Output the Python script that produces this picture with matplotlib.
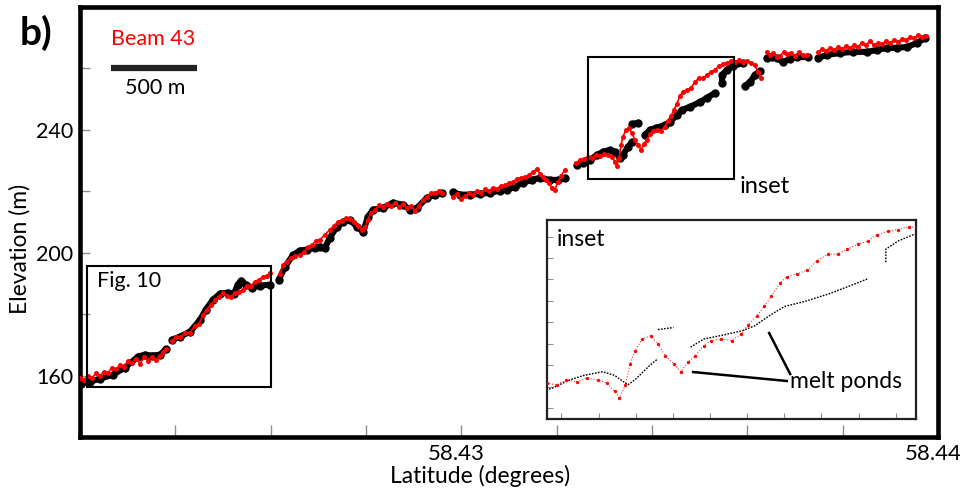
import numpy as np
import matplotlib
matplotlib.use("Agg")
import matplotlib.pyplot as plt
import matplotlib.transforms as mtransforms
from matplotlib.lines import Line2D
from matplotlib.patches import Rectangle

plt.rcParams['font.family'] = ['Lato', 'DejaVu Sans']

nan = float('nan')

# ---- Black profile (latitude, elevation); NaN marks data gaps ----
black_lat = [
    58.42202, 58.42221, 58.42242, 58.42269, 58.42294, 58.42322, 58.42336, 58.42351, 58.42368, 58.42380, nan,
    58.42393, 58.42410, 58.42431, 58.42452, 58.42464, 58.42479, 58.42494, 58.42510, 58.42523, 58.42531,
    58.42538, 58.42548, 58.42561, 58.42578, 58.42599, nan,
    58.42617, 58.42630, 58.42647, 58.42661, 58.42676, 58.42693, 58.42703, 58.42714, 58.42724, 58.42739,
    58.42752, 58.42766, 58.42781, 58.42794, 58.42804, 58.42815, 58.42836, 58.42857, 58.42878, 58.42892,
    58.42907, 58.42928, 58.42945, 58.42959, nan,
    58.42982, 58.42997, 58.43018, 58.43039, 58.43060, 58.43081, 58.43096, 58.43113, 58.43129, 58.43148,
    58.43165, 58.43186, 58.43203, 58.43217, nan,
    58.43243, 58.43255, 58.43270, 58.43285, 58.43297, 58.43312, 58.43322, 58.43333, 58.43339, 58.43350,
    58.43358, nan,
    58.43358, 58.43371, nan,
    58.43385, 58.43396, 58.43408, 58.43427, 58.43438, 58.43452, 58.43463, 58.43480, 58.43501, 58.43515,
    58.43532, nan,
    58.43547, 58.43547, 58.43557, 58.43570, 58.43591, nan,
    58.43595, 58.43606, 58.43616, 58.43627, nan,
    58.43641, 58.43652, 58.43662, 58.43675, 58.43689, 58.43704, 58.43727, nan,
    58.43748, 58.43767, 58.43794, 58.43822, 58.43851, 58.43872, 58.43893, 58.43914, 58.43935, 58.43956,
    58.43973,
]
black_elev = [
    157.4, 158.0, 159.0, 160.3, 162.6, 166.2, 166.8, 166.5, 166.8, 168.5, nan,
    171.7, 172.7, 174.3, 178.2, 181.5, 184.7, 186.7, 187.0, 186.7, 189.6,
    190.9, 189.6, 188.6, 189.3, 189.6, nan,
    191.2, 195.4, 199.3, 200.7, 201.0, 201.6, 202.0, 201.6, 204.9, 208.5,
    210.1, 210.7, 208.5, 206.8, 211.7, 214.0, 214.6, 216.3, 215.6, 214.0,
    214.6, 217.9, 218.9, 219.5, nan,
    219.8, 218.9, 218.9, 219.2, 219.5, 220.2, 220.5, 221.5, 222.8, 223.7,
    224.4, 223.7, 223.7, 224.4, nan,
    228.6, 229.3, 230.2, 231.9, 232.8, 233.5, 232.8, 230.9, 231.9, 234.5,
    236.1, nan,
    241.9, 242.3, nan,
    238.4, 240.0, 240.6, 241.6, 242.6, 244.9, 246.5, 247.5, 249.1, 250.4,
    252.0, nan,
    255.3, 257.9, 259.5, 260.8, 261.8, nan,
    254.3, 255.6, 257.9, 259.2, nan,
    263.4, 263.7, 263.4, 262.1, 263.1, 263.7, 263.7, nan,
    263.4, 264.4, 265.0, 265.4, 265.4, 266.0, 266.7, 266.7, 267.0, 268.3,
    269.9,
]

# ---- Red profile: Beam 43 ----
red_lat = [
    58.42200, 58.42208, 58.42217, 58.42225, 58.42234, 58.42242, 58.42250, 58.42259, 58.42267, 58.42276,
    58.42284, 58.42292, 58.42301, 58.42309, 58.42317, 58.42326, 58.42334, 58.42343, 58.42351, 58.42359,
    58.42368, 58.42374, 58.42380, nan,
    58.42393, 58.42401, 58.42410, 58.42420, 58.42431, 58.42441, 58.42450, 58.42458, 58.42466, 58.42475,
    58.42483, 58.42492, 58.42500, 58.42508, 58.42517, 58.42525, 58.42534, 58.42542, 58.42550, 58.42559,
    58.42567, 58.42575, 58.42584, 58.42592, 58.42599, nan,
    58.42620, 58.42626, 58.42634, 58.42643, 58.42651, 58.42661, 58.42670, 58.42678, 58.42687, 58.42695,
    58.42703, 58.42714, 58.42724, 58.42733, 58.42741, 58.42750, 58.42758, 58.42766, 58.42775, 58.42783,
    58.42792, 58.42798, 58.42804, 58.42810, 58.42819, 58.42827, 58.42836, 58.42844, 58.42852, 58.42861,
    58.42869, 58.42878, 58.42886, 58.42894, 58.42903, 58.42911, 58.42920, 58.42928, 58.42936, 58.42945,
    58.42953, 58.42959, nan,
    58.42982, 58.42991, 58.42999, 58.43008, 58.43016, 58.43024, 58.43033, 58.43041, 58.43050, 58.43058,
    58.43066, 58.43075, 58.43083, 58.43092, 58.43100, 58.43108, 58.43117, 58.43125, 58.43134, 58.43142,
    58.43150, 58.43159, 58.43165, 58.43171, 58.43178, 58.43184, 58.43190, 58.43196, 58.43203, 58.43209,
    58.43217, nan,
    58.43240, 58.43249, 58.43257, 58.43266, 58.43274, 58.43282, 58.43291, 58.43299, 58.43308, 58.43316,
    58.43322, 58.43326, 58.43331, 58.43335, 58.43339, 58.43345, 58.43352, 58.43358, 58.43364, 58.43371,
    58.43377, 58.43383, 58.43389, 58.43396, 58.43402, 58.43410, 58.43419, 58.43427, 58.43433, 58.43440,
    58.43446, 58.43452, 58.43459, 58.43465, 58.43473, 58.43482, 58.43490, 58.43499, 58.43507, 58.43515,
    58.43524, 58.43532, 58.43540, 58.43549, 58.43557, 58.43566, 58.43574, 58.43582, 58.43591, 58.43599,
    58.43608, 58.43616, 58.43622, 58.43629, nan,
    58.43641, 58.43647, 58.43654, 58.43662, 58.43668, 58.43677, 58.43683, 58.43691, 58.43700, 58.43708,
    58.43717, 58.43725, nan,
    58.43748, 58.43757, 58.43765, 58.43773, 58.43782, 58.43790, 58.43799, 58.43807, 58.43815, 58.43824,
    58.43832, 58.43840, 58.43849, 58.43857, 58.43866, 58.43874, 58.43882, 58.43891, 58.43899, 58.43908,
    58.43916, 58.43924, 58.43933, 58.43941, 58.43950, 58.43958, 58.43966, 58.43975,
]
red_elev = [
    159.3, 158.7, 160.0, 159.3, 160.7, 160.0, 161.3, 161.0, 162.6, 162.0,
    163.6, 162.9, 164.6, 164.2, 165.5, 163.9, 165.9, 164.9, 166.2, 165.2,
    166.5, 167.8, 168.5, nan,
    171.4, 172.4, 172.4, 174.0, 174.0, 176.3, 176.9, 179.8, 181.5, 183.1,
    184.7, 185.7, 187.0, 186.0, 185.7, 187.0, 187.3, 188.0, 189.3, 189.3,
    190.6, 191.2, 192.2, 192.5, 193.5, nan,
    193.2, 196.1, 197.1, 198.4, 199.0, 199.3, 200.3, 202.0, 202.6, 203.9,
    204.2, 205.9, 207.5, 208.8, 210.1, 210.4, 211.4, 211.1, 210.1, 208.8,
    207.5, 208.5, 210.7, 213.0, 214.0, 215.6, 215.0, 215.9, 215.3, 216.3,
    215.0, 215.9, 214.6, 215.3, 213.7, 215.3, 217.2, 218.2, 219.5, 219.5,
    220.2, 219.5, nan,
    218.2, 219.2, 217.6, 218.5, 219.5, 218.9, 220.2, 219.5, 220.8, 220.2,
    221.1, 220.8, 221.8, 222.1, 222.8, 223.1, 224.1, 224.4, 224.7, 225.4,
    226.3, 227.3, 225.7, 224.7, 223.7, 222.8, 221.1, 220.5, 223.1, 225.0,
    227.0, nan,
    229.3, 230.2, 230.6, 231.2, 230.9, 231.9, 231.5, 232.2, 231.9, 231.2,
    229.6, 228.3, 230.9, 235.1, 237.7, 240.0, 240.6, 239.0, 236.7, 235.1,
    233.5, 235.4, 236.7, 238.7, 239.7, 240.0, 239.7, 241.0, 242.9, 244.6,
    246.5, 248.5, 251.1, 252.4, 253.0, 253.7, 255.6, 256.9, 256.9, 257.9,
    258.9, 259.5, 260.8, 261.5, 261.8, 262.4, 262.1, 262.8, 262.1, 262.4,
    261.8, 261.1, 258.9, 256.9, nan,
    265.4, 264.4, 265.0, 263.7, 264.1, 265.4, 264.7, 265.0, 264.1, 265.4,
    264.4, 264.4, nan,
    265.4, 266.3, 265.7, 266.7, 266.0, 267.0, 266.3, 267.3, 266.7, 267.6,
    267.0, 268.3, 267.6, 268.9, 267.6, 268.3, 268.0, 268.9, 268.3, 269.3,
    268.6, 269.6, 269.3, 270.2, 269.9, 270.9, 270.2, 270.6,
]

# ---- Axes ticks and labels ----
x_ticks = [58.424, 58.426, 58.428, 58.430, 58.432, 58.434, 58.436, 58.438, 58.440]
x_tick_labels = ['', '', '', '58.43', '', '', '', '', '58.44']
y_ticks = [160, 180, 200, 220, 240, 260]
y_tick_labels = ['160', '', '200', '', '240', '']

# ---- Highlight boxes (lat0, lat1, elev0, elev1) ----
fig10_box = (58.42215, 58.42601, 156.4, 195.8)
inset_box = (58.43266, 58.43572, 224.1, 263.7)

fig = plt.figure(figsize=(9.6, 4.96), dpi=100)
ax = fig.add_axes([80 / 960, 59 / 496, 858 / 960, 430 / 496])
ax.set_xlim(58.422, 58.440)
ax.set_ylim(140, 280)

ax.plot(black_lat, black_elev, color='black', lw=4.4, marker='o', ms=5,
        solid_capstyle='round', solid_joinstyle='round', zorder=2)
ax.plot(red_lat, red_elev, color='red', lw=1.2, marker='o', ms=3.6,
        markeredgewidth=0, zorder=3)

for (x0, x1, y0, y1) in (fig10_box, inset_box):
    ax.add_patch(Rectangle((x0, y0), x1 - x0, y1 - y0, fill=False,
                           ec='black', lw=1.5, zorder=4))

ax.text(fig10_box[0] + 0.00020, fig10_box[3] - 1.6, 'Fig. 10', fontsize=15.5,
        ha='left', va='top', zorder=5)
ax.text(inset_box[1] + 0.00012, 221.6, 'inset', fontsize=17,
        ha='left', va='center', zorder=5)

ax.set_xticks(x_ticks)
ax.set_xticklabels(x_tick_labels)
ax.set_yticks(y_ticks)
ax.set_yticklabels(y_tick_labels)
ax.tick_params(axis='both', direction='in', color='#909090', width=1.0, pad=5)
ax.tick_params(axis='x', length=9, labelsize=16)
ax.tick_params(axis='y', length=7, labelsize=15.5)
shift = mtransforms.ScaledTranslation(-5 / 100, 0, fig.dpi_scale_trans)
for lb in ax.get_xticklabels():
    lb.set_transform(lb.get_transform() + shift)
for s in ax.spines.values():
    s.set_linewidth(3.3)
    s.set_color('black')

ax.set_xlabel('Latitude (degrees)', fontsize=16.5)
ax.xaxis.set_label_coords((480 - 80) / 858, -0.066)
ax.set_ylabel('Elevation (m)', fontsize=16.5)
ax.yaxis.set_label_coords(-0.058, 0.437)

# ---- Panel annotations ----
fig.text(20 / 960, 1 - 33 / 496, 'b)', fontsize=28, fontweight='bold',
         ha='left', va='center')
fig.text(111 / 960, 1 - 39 / 496, 'Beam 43', fontsize=15.5, color='red',
         ha='left', va='center')
fig.add_artist(Line2D([111 / 960, 197 / 960], [1 - 68 / 496, 1 - 68 / 496],
                      color='#222222', lw=4.5, solid_capstyle='butt'))
fig.text(155 / 960, 1 - 88 / 496, '500 m', fontsize=15.5, ha='center', va='center')

# ---- Inset ----
axi = fig.add_axes([547 / 960, 77 / 496, 369 / 960, 199 / 496])
axi.set_xlim(inset_box[0], inset_box[1])
axi.set_ylim(inset_box[2], inset_box[3])
axi.plot(black_lat, black_elev, color='black', lw=1.0, ls=(0, (1.2, 1.0)), zorder=2)
axi.plot(red_lat, red_elev, color='red', lw=0.0, marker='o', ms=2.4,
         markeredgewidth=0, zorder=3)
axi.plot(red_lat, red_elev, color='red', lw=0.7, ls=(0, (1, 2)), zorder=3)
axi.set_xticks(np.arange(inset_box[0] + 0.00012, inset_box[1], 0.000308))
axi.set_yticks(np.arange(inset_box[2] + 2.2, inset_box[3], 4.26))
axi.tick_params(direction='in', color='#909090', length=4, width=0.8,
                labelbottom=False, labelleft=False)
for s in axi.spines.values():
    s.set_linewidth(1.6)
    s.set_color('#222222')
axi.text(0.027, 0.955, 'inset', transform=axi.transAxes, fontsize=16.5,
         ha='left', va='top')
axi.text(0.659, 0.19, 'melt ponds', transform=axi.transAxes, fontsize=16.5,
         ha='left', va='center')
axi.plot([0.396, 0.650], [0.236, 0.191], transform=axi.transAxes, color='black', lw=1.8)
axi.plot([0.602, 0.659], [0.432, 0.226], transform=axi.transAxes, color='black', lw=1.8)

fig.savefig('out.png', dpi=100)
